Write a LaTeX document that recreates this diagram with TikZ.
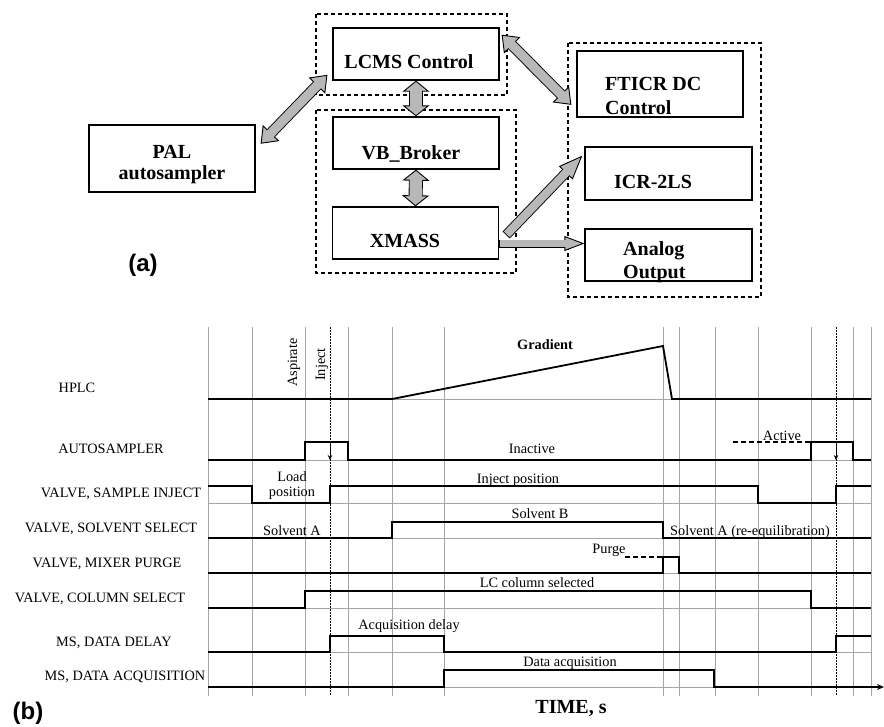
\documentclass[tikz,border=0pt]{standalone}
\usepackage{fontspec}
\setmainfont{Liberation Serif}
\newfontfamily\panelsans{Liberation Sans}
\usetikzlibrary{arrows.meta}
\definecolor{arrowgray}{RGB}{184,184,184}
\definecolor{gridgray}{RGB}{165,165,165}
\tikzstyle{blk}=[shape=rectangle, draw, line width=1.3pt, minimum width=166pt, minimum height=52pt, inner sep=0]
\tikzstyle{btxt}=[font=\bfseries\fontsize{20}{21}\selectfont, inner sep=0, anchor=base]
\tikzstyle{dbox}=[line width=1.1pt, dash pattern=on 4pt off 3pt]
\tikzstyle{rowlbl}=[font=\fontsize{14.3}{15}\selectfont, inner sep=0, anchor=base]
\tikzstyle{sig}=[line width=1.8pt]
\tikzstyle{grd}=[gridgray, line width=0.6pt]
\tikzstyle{panel}=[font=\panelsans\bfseries\fontsize{24}{26}\selectfont, inner sep=0]
\tikzstyle{dblarr}=[line width=11pt, {Triangle[length=15pt,width=23pt,line width=0.9pt,fill=arrowgray]}-{Triangle[length=15pt,width=23pt,line width=0.9pt,fill=arrowgray]}, postaction={draw=arrowgray, line width=9.2pt, -, shorten <=13pt, shorten >=13pt}]
\tikzstyle{vdblarr}=[line width=14pt, {Triangle[length=11pt,width=27pt,line width=0.9pt,fill=arrowgray]}-{Triangle[length=11pt,width=27pt,line width=0.9pt,fill=arrowgray]}, postaction={draw=arrowgray, line width=12.2pt, -, shorten <=9pt, shorten >=9pt}]
\tikzstyle{sarr}=[line width=8pt, -{Triangle[length=20pt,width=15pt,line width=0.9pt,fill=arrowgray]}, postaction={draw=arrowgray, line width=6.2pt, -, shorten <=0.9pt, shorten >=18pt}]
\tikzstyle{sarrd}=[line width=10pt, -{Triangle[length=24pt,width=19pt,line width=0.9pt,fill=arrowgray]}, postaction={draw=arrowgray, line width=8.2pt, -, shorten <=0.9pt, shorten >=22pt}]

\begin{document}
\begin{tikzpicture}[x=1pt, y=-1pt]
\useasboundingbox (0,0) rectangle (884,726);
% (a)
\draw[dbox] (316,14) rectangle (507,95);
\draw[dbox] (316,110) rectangle (516,273);
\draw[dbox] (568,43) rectangle (761,297);
\node[blk, minimum height=67pt] (pal) at (172,158.5) {};
\node[blk] (lcms) at (416,54) {};
\node[blk] (vb) at (416,143) {};
\node[blk] (xm) at (415.5,233) {};
\node[blk, minimum height=66pt] (ft) at (660,84) {};
\node[blk, minimum width=167pt, minimum height=53pt] (icr) at (668.5,173.5) {};
\node[blk, minimum width=167pt] (an) at (668.5,255) {};
\node[btxt, anchor=center, align=center] (palt) at (172,165) {PAL\\autosampler};
\node[btxt] (lcmst) at (409,68.5) {LCMS Control};
\node[btxt] (vbt) at (411,159) {VB\_Broker};
\node[btxt] (xmt) at (405,247) {XMASS};
\node[btxt, anchor=north west, align=left, font=\bfseries\fontsize{20}{24}\selectfont] (ftt) at (605,77.5) {FTICR DC\\Control};
\node[btxt] (icrt) at (653,188) {ICR-2LS};
\node[btxt, anchor=north west, align=left, font=\bfseries\fontsize{20}{22.5}\selectfont] (ant) at (623,241.5) {Analog\\Output};
\draw[dblarr] ([xshift=5pt]pal.10) -- ([xshift=-5pt]lcms.194);
\draw[dblarr] ([xshift=2pt]lcms.13) -- ([xshift=-5pt]ft.194);
\draw[vdblarr] (lcms.south) -- (vb.north);
\draw[vdblarr] (vb.south) -- (xm.north);
\coordinate (xmd) at ([xshift=7pt,yshift=-2pt]xm.east);
\coordinate (xmh) at ([yshift=-10.5pt]xm.east);
\draw[sarrd] (xmd) -- ([xshift=-2pt]icr.168);
\draw[sarr] (xmh) -- (xmh -| an.west);
\node[panel] (pa) at (143,265) {(a)};
% (b)
\foreach \x in {208,252,305,348,392,444,663,679,715,758,811,853,871}
{
\draw[grd] (\x,327) -- (\x,696);
}
\foreach \y in {399,460,503,538,573,608,652,687}
{
\draw[grd] (208,\y) -- (871,\y);
}
\foreach \x in {330,836}
{
\draw[line width=1pt, dash pattern=on 1.5pt off 1.5pt] (\x,327) -- (\x,696);
\draw[line width=1pt, -{Stealth[length=5pt,width=4.5pt]}] (\x,442) -- (\x,460);
}
\draw[sig] (208,399) -- (392,399) -- (663,346) -- (672,399) -- (871,399);
\draw[sig] (208,460) -- (305,460) -- (305,442) -- (348,442) -- (348,460) -- (811,460) -- (811,442) -- (853,442) -- (853,460) -- (871,460);
\draw[sig] (208,486) -- (252,486) -- (252,503) -- (330,503) -- (330,486) -- (758,486) -- (758,503) -- (836,503) -- (836,486) -- (871,486);
\draw[sig] (208,538) -- (392,538) -- (392,522) -- (663,522) -- (663,538) -- (871,538);
\draw[sig] (208,573) -- (663,573) -- (663,557) -- (679,557) -- (679,573) -- (871,573);
\draw[sig] (208,608) -- (305,608) -- (305,591) -- (811,591) -- (811,608) -- (871,608);
\draw[sig] (208,652) -- (330,652) -- (330,636) -- (444,636) -- (444,652) -- (836,652) -- (836,636) -- (871,636);
\draw[sig, -{Stealth[length=7pt,width=6pt]}] (208,687) -- (444,687) -- (444,670) -- (714,670) -- (714,687) -- (884,687);
\draw[line width=1.2pt, dash pattern=on 5pt off 3pt] (733,442) -- (811,442);
\draw[line width=1.2pt, dash pattern=on 5pt off 3pt] (625,557) -- (663,557);
\foreach \x/\y/\t [count=\i] in {77/392/HPLC, 111/453/AUTOSAMPLER, 121/497/{VALVE, SAMPLE INJECT}, 111/532/{VALVE, SOLVENT SELECT}, 107/567/{VALVE, MIXER PURGE}, 100/602/{VALVE, COLUMN SELECT}, 114/646/{MS, DATA DELAY}, 125/680/{MS, DATA ACQUISITION}}
{
\node[rowlbl] (row\i) at (\x,\y) {\t};
}
\node[rowlbl, font=\bfseries\fontsize{14.3}{15}\selectfont] (grad) at (545,349) {Gradient};
\node[rowlbl, rotate=90, anchor=base west] (asp) at (297,387) {Aspirate};
\node[rowlbl, rotate=90, anchor=base west] (inj) at (325,381) {Inject};
\node[rowlbl] (inact) at (532,453) {Inactive};
\node[rowlbl] (act) at (782,440) {Active};
\node[rowlbl, anchor=center, align=center] (load) at (292,486) {Load\\position};
\node[rowlbl] (injpos) at (518,483) {Inject position};
\node[rowlbl] (solA) at (292,535) {Solvent A};
\node[rowlbl] (solB) at (540,518) {Solvent B};
\node[rowlbl] (solre) at (750,535) {Solvent A (re-equilibration)};
\node[rowlbl] (purge) at (609,553) {Purge};
\node[rowlbl] (lcsel) at (537,587) {LC column selected};
\node[rowlbl] (acqd) at (409,629) {Acquisition delay};
\node[rowlbl] (dacq) at (570,666) {Data acquisition};
\node[rowlbl, font=\bfseries\fontsize{20}{22}\selectfont] (time) at (571,713) {TIME, s};
\node[panel] (pb) at (28,713) {(b)};
\end{tikzpicture}
\end{document}
